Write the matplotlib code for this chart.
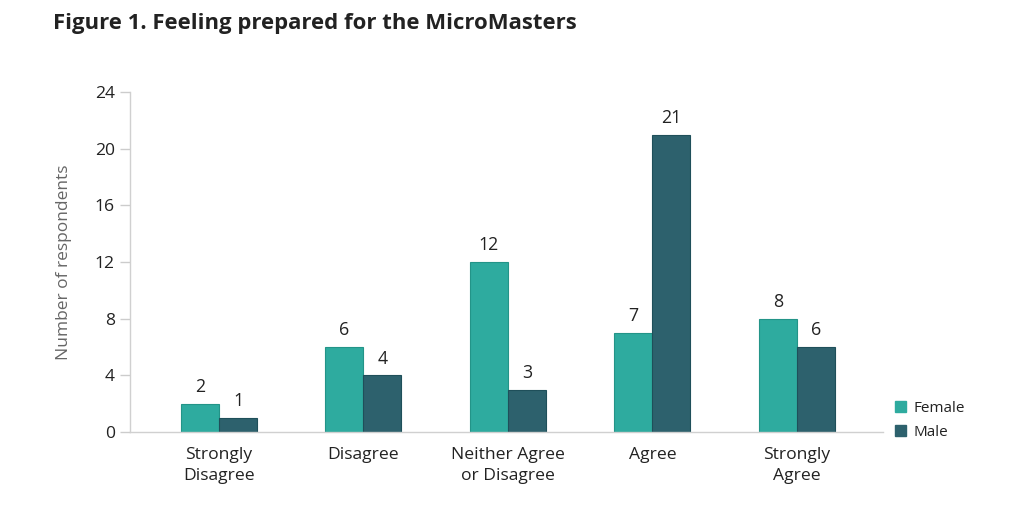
import matplotlib
matplotlib.use("Agg")
import matplotlib.pyplot as plt
import numpy as np
from matplotlib.patches import Patch

plt.rcParams['font.family'] = ['Open Sans', 'DejaVu Sans']

categories = ["Strongly\nDisagree", "Disagree", "Neither Agree\nor Disagree", "Agree", "Strongly\nAgree"]
female = [2, 6, 12, 7, 8]
male = [1, 4, 3, 21, 6]
yticks = [0, 4, 8, 12, 16, 20, 24]

C_F = "#2eab9f"
C_M = "#2d616d"
TXT = "#222222"

fig = plt.figure(figsize=(10.24, 5.18), dpi=100)
ax = fig.add_axes([0.127, 0.166, 0.735, 0.656])

x = np.arange(len(categories))
w = 0.263
bf = ax.bar(x - w / 2, female, w, color=C_F, edgecolor="#239488", linewidth=0.8)
bm = ax.bar(x + w / 2, male, w, color=C_M, edgecolor="#1f4f5a", linewidth=0.8)

for bars in (bf, bm):
    for b in bars:
        ax.text(b.get_x() + b.get_width() / 2, b.get_height() + 0.55, f"{int(b.get_height())}",
                ha='center', va='bottom', fontsize=12.8, color=TXT)

ax.set_xlim(-0.616, 4.595)
ax.set_ylim(0, 24)
ax.set_yticks(yticks)
ax.set_xticks(x)
ax.set_xticklabels(categories, fontsize=12.6, color=TXT, linespacing=1.4)
ax.tick_params(axis='y', labelsize=12.6, labelcolor=TXT, color="#cccccc", length=7, width=1, pad=4)
ax.tick_params(axis='x', length=0, pad=11)

for s in ('top', 'right'):
    ax.spines[s].set_visible(False)
for s in ('left', 'bottom'):
    ax.spines[s].set_color("#d0d0d0")
    ax.spines[s].set_linewidth(1)

ax.set_ylabel("Number of respondents", fontsize=12.5, color="#666666", labelpad=16)

handles = [Patch(color=C_F, label='Female'), Patch(color=C_M, label='Male')]
fig.legend(handles=handles, loc='lower left', bbox_to_anchor=(0.861, 0.125), frameon=False,
           fontsize=11, handlelength=0.7, handleheight=0.7, handletextpad=0.5, labelspacing=0.55,
           labelcolor=TXT)

fig.text(0.052, 0.975, "Figure 1. Feeling prepared for the MicroMasters", fontsize=15.9,
         fontweight='bold', color=TXT, ha='left', va='top')

fig.savefig("out.png", dpi=100)
